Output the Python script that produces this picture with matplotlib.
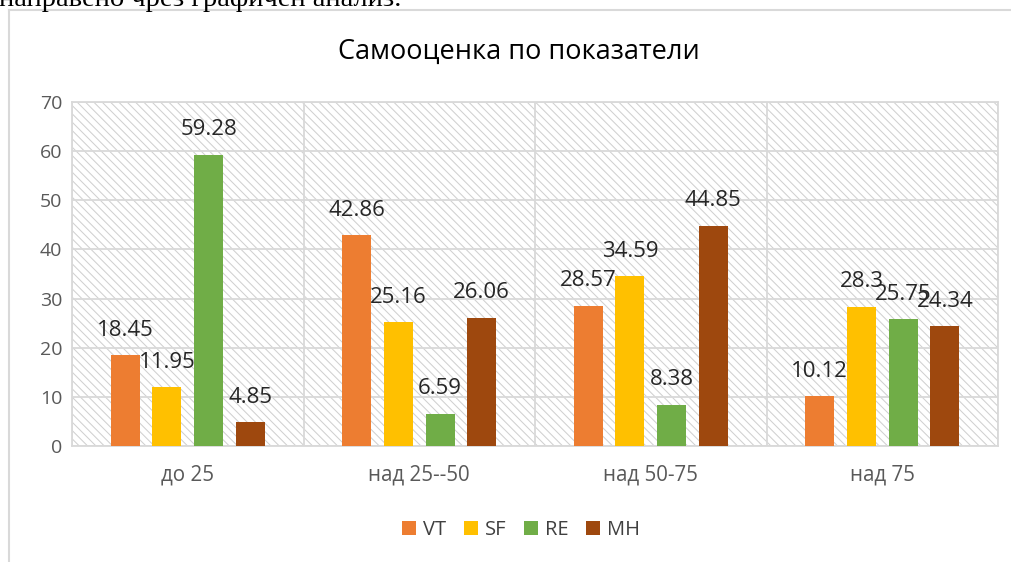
import matplotlib
matplotlib.use("Agg")
import matplotlib.pyplot as plt
import numpy as np
from matplotlib.patches import Rectangle, Patch
from matplotlib.lines import Line2D

categories = ["до 25", "над 25--50", "над 50-75", "над 75"]
series_names = ["VT", "SF", "RE", "MH"]
VT = [18.45, 42.86, 28.57, 10.12]
SF = [11.95, 25.16, 34.59, 28.3]
RE = [59.28, 6.59, 8.38, 25.75]
MH = [4.85, 26.06, 44.85, 24.34]
yticks = [0, 10, 20, 30, 40, 50, 60, 70]
title = "Самооценка по показатели"
top_text = "направено чрез графичен анализ."

colors = ["#ED7D31", "#FFC000", "#70AD47", "#9E480E"]
grid_c = "#d9d9d9"
font = ["Open Sans", "DejaVu Sans"]

plt.rcParams["font.family"] = font
plt.rcParams["hatch.color"] = "#d0d0d0"
plt.rcParams["hatch.linewidth"] = 0.75

W, H = 1012, 562
fig = plt.figure(figsize=(W / 100, H / 100), dpi=100)
ax = fig.add_axes([72 / W, 1 - 446 / H, (998 - 72) / W, (446 - 102) / H])

# hatched plot background
bg = Rectangle((0, 0), 1, 1, transform=ax.transAxes, facecolor="white",
               edgecolor="#d0d0d0", hatch="\\\\\\\\", lw=0, zorder=0)
ax.add_patch(bg)

x = np.arange(len(categories))
step = 0.18
bw = 0.125
all_series = [VT, SF, RE, MH]
for i, (vals, c) in enumerate(zip(all_series, colors)):
    xs = x + (i - 1.5) * step
    ax.bar(xs, vals, width=bw, color=c, zorder=3, label=series_names[i])
    for xi, v in zip(xs, vals):
        ax.annotate(f"{v:g}", (xi, v), xytext=(0, 18), textcoords="offset points",
                    ha="center", va="center", fontsize=16, color="#262626", zorder=5)

ax.set_xlim(-0.5, len(categories) - 0.5)
ax.set_ylim(0, 70)
ax.set_yticks(yticks)
ax.set_xticks(x)
ax.set_xticklabels(categories)
ax.set_xticks(np.arange(-0.5, len(categories), 1.0), minor=True)
ax.tick_params(axis="both", which="both", length=0)
ax.tick_params(axis="y", labelsize=14, labelcolor="#595959", pad=7)
ax.tick_params(axis="x", labelsize=14.8, labelcolor="#595959", pad=13)
ax.grid(axis="y", color=grid_c, lw=1.3, zorder=1)
ax.grid(axis="x", which="minor", color=grid_c, lw=1.3, zorder=1)
ax.grid(axis="x", which="major", visible=False)
ax.set_axisbelow(True)
for s in ax.spines.values():
    s.set_color(grid_c)
    s.set_linewidth(1.3)

fig.text(519 / W, 1 - 52 / H, title, ha="center", va="center", fontsize=19.5, color="#000000")

handles = [Patch(facecolor=c, edgecolor="none") for c in colors]
fig.legend(handles, series_names, loc="center", bbox_to_anchor=(521 / W, 1 - 530 / H),
           ncol=4, frameon=False, fontsize=14.5, handlelength=0.7, handleheight=0.7,
           handletextpad=0.35, columnspacing=0.85, labelcolor="#404040")

# chart frame (partially outside the image)
fig.add_artist(Line2D([8.5 / W, 8.5 / W], [0, 1 - 10 / H], transform=fig.transFigure,
                      color=grid_c, lw=1.5))
fig.add_artist(Line2D([8.5 / W, 1], [1 - 10 / H, 1 - 10 / H], transform=fig.transFigure,
                      color=grid_c, lw=1.5))

fig.text(-1 / W, 1 - 6 / H, top_text, ha="left", va="baseline", fontsize=20.5,
         family=["Liberation Serif", "DejaVu Serif"], color="#000000")

fig.savefig("out.png", dpi=100)
